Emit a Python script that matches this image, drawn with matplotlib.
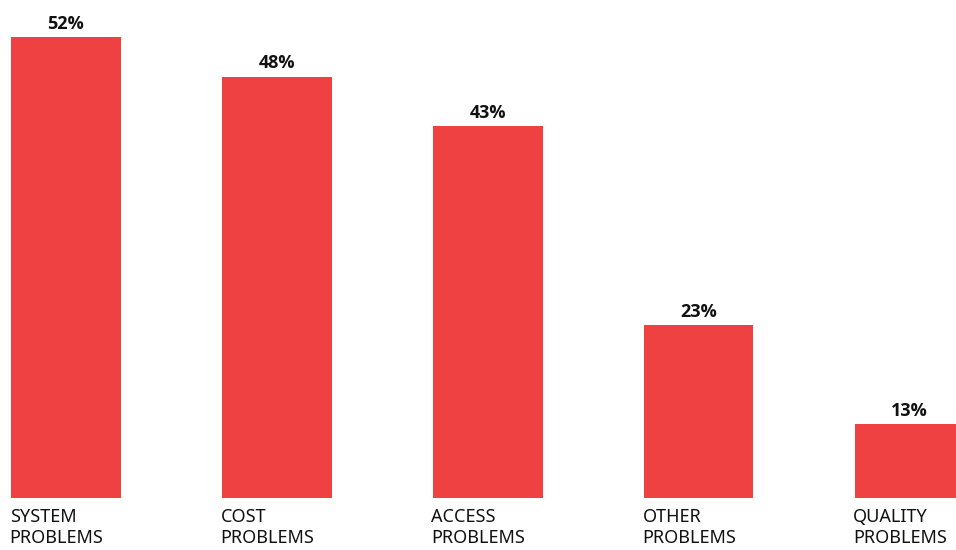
import matplotlib
matplotlib.use("agg")
import matplotlib.pyplot as plt
from matplotlib import font_manager

categories = ["SYSTEM\nPROBLEMS", "COST\nPROBLEMS", "ACCESS\nPROBLEMS",
              "OTHER\nPROBLEMS", "QUALITY\nPROBLEMS"]
values = [52, 48, 43, 23, 13]
value_labels = ["52%", "48%", "43%", "23%", "13%"]

bar_color = "#EF4141"
bar_width = 0.52

plt.rcParams["font.family"] = ["Noto Sans", "DejaVu Sans"]

# pick a family that really ships a bold face for the percentages
bold_family = "DejaVu Sans"
for fam in ["Noto Sans", "Open Sans", "Lato"]:
    for f in font_manager.fontManager.ttflist:
        if f.name == fam and f.weight in (700, "bold") and f.style == "normal":
            bold_family = fam
            break
    if bold_family != "DejaVu Sans":
        break

fig = plt.figure(figsize=(9.56, 5.5), dpi=100)
ax = fig.add_axes([0, 0.0945, 1, 0.9055])

x = list(range(len(values)))
bars = ax.bar(x, values, width=bar_width, color=bar_color, linewidth=0)

ax.set_xlim(-0.312, 4.22)
ax.set_ylim(5.6, 55.7)
ax.axis("off")

# percentage above each bar
for b, lab in zip(bars, value_labels):
    ax.annotate(lab, (b.get_x() + b.get_width() / 2, b.get_height()),
                xytext=(0, 3), textcoords="offset points",
                ha="center", va="bottom", fontsize=13, fontweight="bold",
                family=[bold_family, "DejaVu Sans"], color="#111111")

# category names under the bars, left aligned with the bar edge
for b, name in zip(bars, categories):
    ax.annotate(name, (b.get_x(), 5.6), xytext=(-1, -7),
                textcoords="offset points", ha="left", va="top",
                fontsize=13, color="#111111", linespacing=1.2,
                annotation_clip=False)

fig.savefig("out.png", dpi=100)
